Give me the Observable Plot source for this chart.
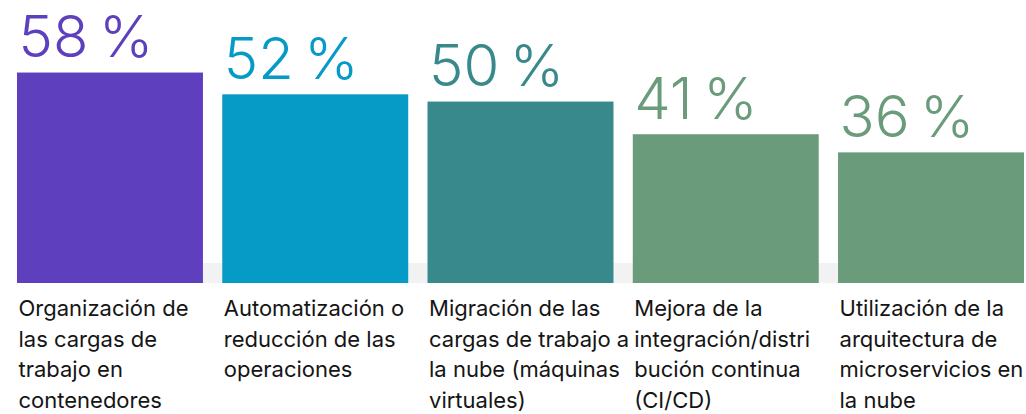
<!DOCTYPE html>
<html>
<head>
<meta charset="utf-8">
<script src="https://cdn.jsdelivr.net/npm/d3@7"></script>
<script src="https://cdn.jsdelivr.net/npm/@observablehq/plot@0.6"></script>
<style>
  html, body { margin: 0; padding: 0; background: #fff; }
  svg { overflow: visible; display: block; }
</style>
</head>
<body>
<div id="chart"></div>
<script>
const categories = [
  "Organización de\nlas cargas de\ntrabajo en\ncontenedores",
  "Automatización o\nreducción de las\noperaciones",
  "Migración de las\ncargas de trabajo a\nla nube (máquinas\nvirtuales)",
  "Mejora de la\nintegración/distri\nbución continua\n(CI/CD)",
  "Utilización de la\narquitectura de\nmicroservicios en\nla nube"
];
const values = [58, 52, 50, 41, 36];
const valueLabels = ["58\u202f%", "52\u202f%", "50\u202f%", "41\u202f%", "36\u202f%"];
const colors = ["#5e40be", "#069ac6", "#37898b", "#6a9b7a", "#6a9b7a"];
const baseBand = [5.5];

const barW = 0.906;
const rows = categories.map((c, i) => ({i, cat: c, value: values[i], label: valueLabels[i], color: colors[i]}));

const chart = Plot.plot({
  width: 1026,
  height: 414,
  marginLeft: 17,
  marginRight: 2,
  marginTop: 29,
  marginBottom: 131,
  x: {domain: [0, rows.length - 1 + barW], axis: null},
  y: {domain: [0, 70], axis: null},
  marks: [
    Plot.rectY(baseBand, {x1: 0, x2: rows.length - 1 + barW, y1: 0, y2: d => d, fill: "#f2f2f2"}),
    Plot.rectY(rows, {x1: "i", x2: d => d.i + barW, y1: 0, y2: "value", fill: "color"}),
    Plot.text(rows, {
      x: "i", y: "value", text: "label", fill: "color",
      textAnchor: "start", lineAnchor: "bottom", dx: 1, dy: -16,
      fontSize: 58, fontWeight: 300, fontFamily: "Inter, Lato, sans-serif"
    }),
    Plot.text(rows, {
      x: "i", y: 0, text: "cat", fill: "#151515",
      textAnchor: "start", lineAnchor: "top", dx: 1, dy: 11,
      fontSize: 22, lineHeight: 1.39, fontFamily: "Inter, Lato, sans-serif"
    })
  ]
});
document.getElementById("chart").appendChild(chart);
</script>
</body>
</html>
